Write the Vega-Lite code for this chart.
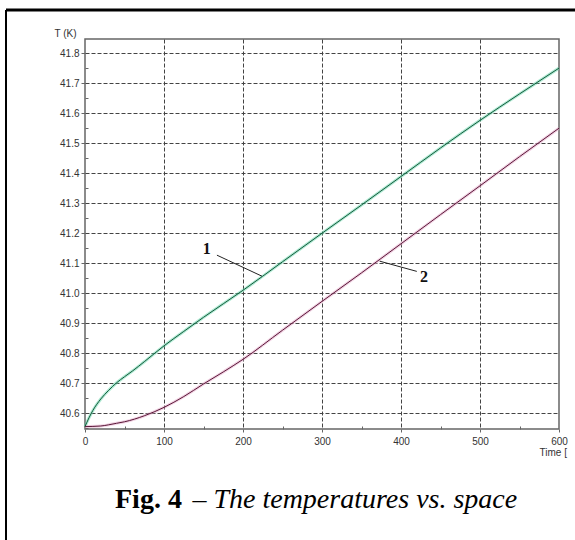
{
  "$schema": "https://vega.github.io/schema/vega-lite/v6.json",
  "width": 474,
  "height": 390,
  "autosize": {"type": "none"},
  "padding": {"left": 85, "top": 39, "right": 16, "bottom": 111},
  "background": "white",
  "config": {
    "view": {"stroke": "#666", "strokeWidth": 1.5},
    "axis": {"labelFont": "Liberation Sans", "labelFontSize": 10, "labelColor": "#333", "titleFont": "Liberation Sans", "titleFontSize": 10, "titleFontWeight": "normal", "titleColor": "#333", "domainColor": "#666", "tickColor": "#666"}
  },
  "datasets": {
    "curves": [
      {"t": 0, "T": 40.556, "curve": "1"}, {"t": 5, "T": 40.585, "curve": "1"}, {"t": 10, "T": 40.61, "curve": "1"},
      {"t": 20, "T": 40.648, "curve": "1"}, {"t": 30, "T": 40.677, "curve": "1"}, {"t": 40, "T": 40.702, "curve": "1"},
      {"t": 50, "T": 40.722, "curve": "1"}, {"t": 60, "T": 40.741, "curve": "1"}, {"t": 75, "T": 40.772, "curve": "1"},
      {"t": 100, "T": 40.825, "curve": "1"}, {"t": 125, "T": 40.873, "curve": "1"}, {"t": 150, "T": 40.92, "curve": "1"},
      {"t": 175, "T": 40.965, "curve": "1"}, {"t": 200, "T": 41.01, "curve": "1"}, {"t": 250, "T": 41.105, "curve": "1"},
      {"t": 300, "T": 41.2, "curve": "1"}, {"t": 350, "T": 41.294, "curve": "1"}, {"t": 400, "T": 41.389, "curve": "1"},
      {"t": 450, "T": 41.484, "curve": "1"}, {"t": 500, "T": 41.576, "curve": "1"}, {"t": 550, "T": 41.664, "curve": "1"},
      {"t": 600, "T": 41.75, "curve": "1"},
      {"t": 0, "T": 40.556, "curve": "2"}, {"t": 20, "T": 40.558, "curve": "2"}, {"t": 30, "T": 40.562, "curve": "2"},
      {"t": 40, "T": 40.567, "curve": "2"}, {"t": 50, "T": 40.572, "curve": "2"}, {"t": 75, "T": 40.592, "curve": "2"},
      {"t": 100, "T": 40.62, "curve": "2"}, {"t": 125, "T": 40.656, "curve": "2"}, {"t": 150, "T": 40.698, "curve": "2"},
      {"t": 175, "T": 40.738, "curve": "2"}, {"t": 200, "T": 40.78, "curve": "2"}, {"t": 250, "T": 40.877, "curve": "2"},
      {"t": 300, "T": 40.973, "curve": "2"}, {"t": 350, "T": 41.068, "curve": "2"}, {"t": 400, "T": 41.165, "curve": "2"},
      {"t": 450, "T": 41.262, "curve": "2"}, {"t": 500, "T": 41.358, "curve": "2"}, {"t": 550, "T": 41.455, "curve": "2"},
      {"t": 600, "T": 41.55, "curve": "2"}
    ],
    "leaders": [
      {"t": 167, "T": 41.127, "t2": 224, "T2": 41.057},
      {"t": 373, "T": 41.107, "t2": 420, "T2": 41.073}
    ],
    "labels": [
      {"t": 154, "T": 41.147, "label": "1"},
      {"t": 429, "T": 41.053, "label": "2"}
    ],
    "frame": [
      {"t": -100, "T": 41.944, "t2": 700, "T2": 41.944, "w": 3},
      {"t": -100, "T": 41.944, "t2": -100, "T2": 40.0, "w": 2}
    ],
    "caption": [
      {"t": 38, "T": 40.2846, "text": "Fig. 4", "part": "bold"},
      {"t": 136, "T": 40.2846, "text": "– The temperatures vs. space", "part": "italic"}
    ]
  },
  "encoding": {
    "x": {
      "field": "t", "type": "quantitative",
      "scale": {"domain": [0, 600], "nice": false, "zero": false},
      "axis": {
        "values": [0, 50, 100, 150, 200, 250, 300, 350, 400, 450, 500, 550, 600],
        "labelExpr": "datum.value % 100 == 0 ? datum.label : ''",
        "format": "d",
        "grid": true,
        "gridColor": "#444",
        "gridDash": [4, 2],
        "gridWidth": 1,
        "gridOpacity": {"condition": {"test": "datum.value % 100 != 0 || datum.value == 0 || datum.value == 600", "value": 0}, "value": 1},
        "tickSize": {"condition": {"test": "datum.value % 100 != 0", "value": -3}, "value": 3},
        "labelPadding": 4,
        "labelFlush": false,
        "domain": false,
        "title": "Time [",
        "titleAngle": 0,
        "titleAlign": "left",
        "titleBaseline": "middle",
        "titleX": 454,
        "titleY": 23
      }
    },
    "y": {
      "field": "T", "type": "quantitative",
      "scale": {"domain": [40.548, 41.847], "nice": false, "zero": false},
      "axis": {
        "values": [40.55, 40.6, 40.65, 40.7, 40.75, 40.8, 40.85, 40.9, 40.95, 41.0, 41.05, 41.1, 41.15, 41.2, 41.25, 41.3, 41.35, 41.4, 41.45, 41.5, 41.55, 41.6, 41.65, 41.7, 41.75, 41.8],
        "labelExpr": "round(datum.value * 100) % 10 == 0 ? format(datum.value, '.1f') : ''",
        "grid": true,
        "gridColor": "#444",
        "gridDash": [4, 2],
        "gridWidth": 1,
        "gridOpacity": {"condition": {"test": "round(datum.value * 100) % 10 != 0", "value": 0}, "value": 1},
        "tickSize": {"condition": {"test": "round(datum.value * 100) % 10 != 0", "value": -3}, "value": 4},
        "labelPadding": 2,
        "labelFlush": false,
        "domain": false,
        "title": "T (K)",
        "titleAngle": 0,
        "titleAlign": "right",
        "titleBaseline": "middle",
        "titleX": -9,
        "titleY": -6
      }
    }
  },
  "layer": [
    {
      "data": {"name": "curves"},
      "mark": {"type": "line", "strokeWidth": 3, "opacity": 0.5, "interpolate": "monotone"},
      "encoding": {
        "detail": {"field": "curve"},
        "color": {"field": "curve", "type": "nominal", "scale": {"domain": ["1", "2"], "range": ["#5fd6a8", "#e3a6c8"]}, "legend": null}
      }
    },
    {
      "data": {"name": "curves"},
      "mark": {"type": "line", "strokeWidth": 1, "interpolate": "monotone"},
      "encoding": {
        "detail": {"field": "curve"},
        "stroke": {"field": "curve", "type": "nominal", "scale": {"domain": ["1", "2"], "range": ["#145a3c", "#5a1838"]}, "legend": null}
      }
    },
    {
      "data": {"name": "leaders"},
      "mark": {"type": "rule", "color": "#222", "strokeWidth": 1},
      "encoding": {"x2": {"field": "t2"}, "y2": {"field": "T2"}}
    },
    {
      "data": {"name": "labels"},
      "mark": {"type": "text", "font": "Liberation Serif", "fontSize": 16, "fontWeight": "bold", "color": "#111", "align": "center", "baseline": "middle"},
      "encoding": {"text": {"field": "label"}}
    },
    {
      "data": {"name": "frame"},
      "mark": {"type": "rule", "color": "#000"},
      "encoding": {"x2": {"field": "t2"}, "y2": {"field": "T2"}, "strokeWidth": {"field": "w", "type": "quantitative", "scale": null}}
    },
    {
      "data": {"name": "caption"},
      "transform": [{"filter": "datum.part == 'bold'"}],
      "mark": {"type": "text", "font": "Liberation Serif", "fontSize": 28, "fontWeight": "bold", "color": "#000", "align": "left", "baseline": "alphabetic"},
      "encoding": {"text": {"field": "text"}}
    },
    {
      "data": {"name": "caption"},
      "transform": [{"filter": "datum.part == 'italic'"}],
      "mark": {"type": "text", "font": "Liberation Serif", "fontSize": 28, "fontStyle": "italic", "color": "#000", "align": "left", "baseline": "alphabetic"},
      "encoding": {"text": {"field": "text"}}
    }
  ]
}
